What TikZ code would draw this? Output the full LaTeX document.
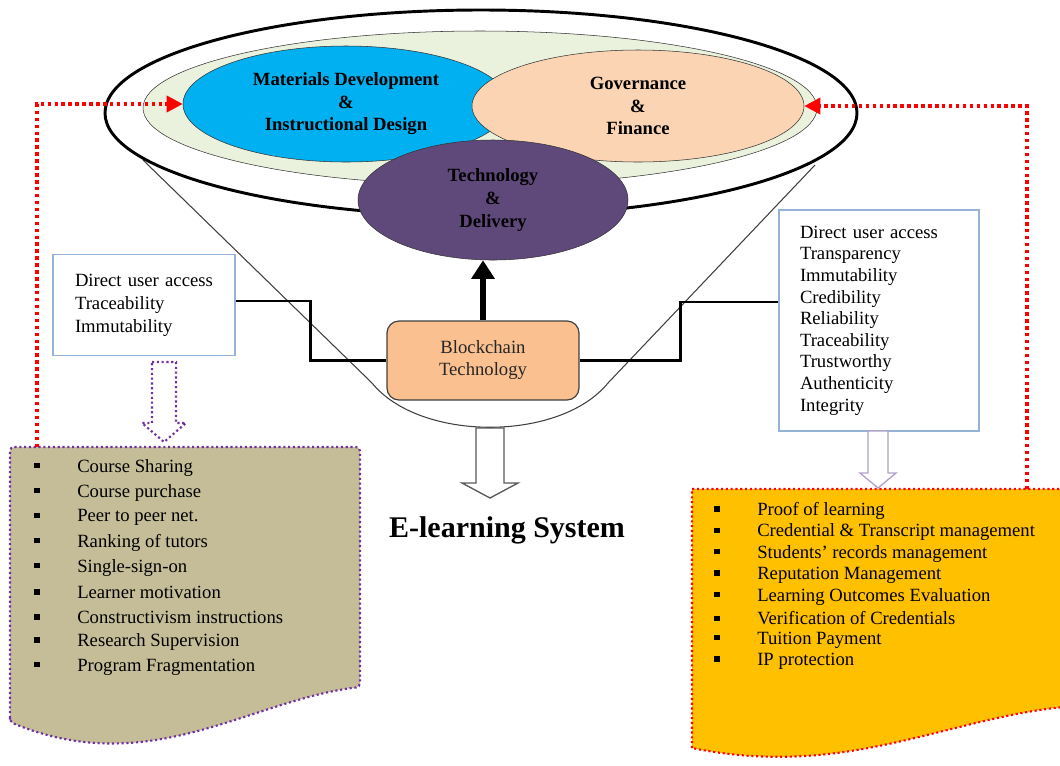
\documentclass[tikz,border=0pt]{standalone}
\usepackage{fontspec}
\setmainfont{Liberation Serif}
\usetikzlibrary{positioning,arrows.meta,shapes.geometric}

\definecolor{matblue}{HTML}{00B0F0}
\definecolor{govpeach}{HTML}{FBD4B4}
\definecolor{techpurple}{HTML}{5F497A}
\definecolor{bowlgreen}{HTML}{EAF1DD}
\definecolor{chainorange}{HTML}{FAC090}
\definecolor{boxblue}{HTML}{95B3D7}
\definecolor{sharekhaki}{HTML}{C4BD97}
\definecolor{sharepurple}{HTML}{7030A0}
\definecolor{credyellow}{HTML}{FFC000}
\definecolor{lilac}{HTML}{B2A1C7}
\newcommand{\bul}{\makebox[32.25pt][l]{\rule[3pt]{4pt}{4pt}}}

\begin{document}
\begin{tikzpicture}[x=0.75pt, y=-0.75pt,
  every node/.style={font=\fontsize{14}{16.5}\selectfont},
  lobe/.style={ellipse, draw=black!80, thin, inner sep=0pt, align=center,
               font=\fontsize{14}{16.9}\selectfont\bfseries},
  propbox/.style={draw=boxblue, line width=0.8pt, fill=white, align=left},
  chainbox/.style={draw=black!75, line width=0.9pt, rounded corners=9pt,
                   fill=chainorange, align=center, text=black!85,
                   minimum width=144pt, minimum height=59.25pt},
  item/.style={anchor=west, inner sep=0pt},
  link/.style={line width=2pt},
  feedback/.style={red, line width=2.6pt, dash pattern=on 2.6pt off 2.6pt,
                   -{Triangle[length=12pt,width=12pt]}},
  dotborder/.style={line width=1.6pt, dash pattern=on 1.6pt off 2pt}
]
  \path[use as bounding box] (0,0) rectangle (1060,765);
  \clip (0,0) rectangle (1060,765);

  % --- Funnel and bowl ---
  \draw[black!75, line width=0.8pt]
    (143,160) -- (372,383) .. controls (420,442) and (560,442) .. (608,383) -- (815,165);
  \draw[line width=2.2pt] (481,113) ellipse [x radius=376, y radius=103];
  \draw[black!80, thin, fill=bowlgreen] (480,108) ellipse [x radius=337, y radius=77];

  % --- The three areas ---
  \node[lobe, fill=matblue, minimum width=244.5pt, minimum height=87pt] (matdev)
    at (346,104) {Materials Development\\\&\\Instructional Design};
  \node[lobe, fill=govpeach, minimum width=249pt, minimum height=84pt] (govfin)
    at (638,106) {Governance\\\&\\Finance};
  \node[lobe, fill=techpurple, minimum width=202.5pt, minimum height=90pt] (techdel)
    at (493,200) {Technology\\\&\\Delivery};

  % --- Blockchain and its properties ---
  \node[chainbox] (chain) at (483,360.5) {Blockchain\\Technology};
  \node[propbox, minimum width=136.5pt, minimum height=75.75pt, text width=103.5pt,
        font=\fontsize{14}{17.25}\selectfont] (leftprops) at (144,305)
    {Direct user access\\Traceability\\Immutability};
  \node[propbox, minimum width=150pt, minimum height=165.75pt, text width=118.5pt,
        font=\fontsize{14}{16.2}\selectfont] (rightprops) at (879,320.5)
    {Direct user access\\Transparency\\Immutability\\Credibility\\Reliability\\Traceability\\Trustworthy\\Authenticity\\Integrity};

  \draw[link] ([yshift=3pt]leftprops.east) -- ++(75,0) |- (chain.west);
  \draw[link] (chain.east) -- ++(101,0) |- ([yshift=14pt]rightprops.west);
  \draw[line width=4.5pt, -{Triangle[length=14pt,width=17pt]}]
    (chain.north) -- (chain.north |- techdel.south);

  % --- Hollow arrows ---
  \draw[sharepurple, dotborder, fill=white]
    (152,362) -- (176,362) -- (176,423) -- (186,423) -- (164,442) -- (142,423) -- (152,423) -- cycle;
  \draw[lilac, line width=1pt, fill=white]
    (868,431) -- (888,431) -- (888,473) -- (896,473) -- (878,488) -- (860,473) -- (868,473) -- cycle;
  \draw[black!65, line width=1pt, fill=white]
    (476,428) -- (504,428) -- (504,483) -- (518,483) -- (490,498) -- (462,483) -- (476,483) -- cycle;

  \node[font=\fontsize{22.5}{27}\selectfont\bfseries] (elearn) at (507,530) {E-learning System};

  % --- Application lists ---
  \draw[sharepurple, dotborder, fill=sharekhaki, rounded corners=3pt]
    (10,722) -- (10,447) -- (360,447) -- (360,687)
    .. controls (250,700) and (150,780) .. (10,722) -- cycle;
  \foreach \txt [count=\i from 0] in {Course Sharing, Course purchase, Peer to peer net.,
      Ranking of tutors, Single-sign-on, Learner motivation, Constructivism instructions,
      Research Supervision, Program Fragmentation}
    \node[item] (share\i) at (34, 468+24.9*\i) {\bul\txt};

  \draw[red, dotborder, fill=credyellow]
    (692,748) -- (692,489) -- (1075,489) -- (1075,706)
    .. controls (950,715) and (850,780) .. (692,748) -- cycle;
  \foreach \txt [count=\i from 0] in {Proof of learning, Credential \& Transcript management,
      Students’ records management, Reputation Management, Learning Outcomes Evaluation,
      Verification of Credentials, Tuition Payment, IP protection}
    \node[item] (cred\i) at (714, 511+21.5*\i) {\bul\txt};

  % --- Feedback lines ---
  \coordinate (sharetop) at (37,447);
  \coordinate (credtop) at (1027,489);
  \draw[feedback] (sharetop) |- (matdev.west);
  \draw[feedback] (credtop) |- (govfin.east);
\end{tikzpicture}
\end{document}
